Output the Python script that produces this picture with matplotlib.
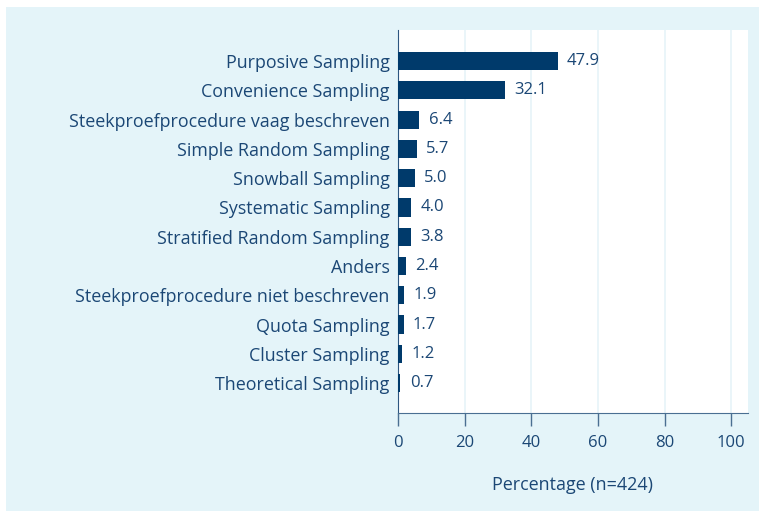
import matplotlib
matplotlib.use("Agg")
import matplotlib.pyplot as plt
from matplotlib.patches import Rectangle

categories = [
    "Purposive Sampling",
    "Convenience Sampling",
    "Steekproefprocedure vaag beschreven",
    "Simple Random Sampling",
    "Snowball Sampling",
    "Systematic Sampling",
    "Stratified Random Sampling",
    "Anders",
    "Steekproefprocedure niet beschreven",
    "Quota Sampling",
    "Cluster Sampling",
    "Theoretical Sampling",
]
values = [47.9, 32.1, 6.4, 5.7, 5.0, 4.0, 3.8, 2.4, 1.9, 1.7, 1.2, 0.7]
value_labels = ["47.9", "32.1", "6.4", "5.7", "5.0", "4.0", "3.8", "2.4", "1.9", "1.7", "1.2", "0.7"]
xticks = [0, 20, 40, 60, 80, 100]
xlabel = "Percentage (n=424)"

plt.rcParams['font.family'] = ['Open Sans', 'DejaVu Sans']
text_color = "#1b4775"
bar_color = "#003a6b"
panel_color = "#e4f4f9"
grid_color = "#e6f3f8"

fig = plt.figure(figsize=(7.59, 5.12), dpi=100)
fig.patch.set_facecolor("white")
fig.patches.append(Rectangle((6/759, 1-511/512), 753/759, 504/512,
                             transform=fig.transFigure, facecolor=panel_color,
                             edgecolor="none", zorder=-10))

ax = fig.add_axes([398/759, 1-413/512, 350/759, 383/512])
ax.set_zorder(5)
ax.set_facecolor("white")
n = len(categories)
ypos = list(range(n))[::-1]
ax.barh(ypos, values, height=0.62, color=bar_color, zorder=3)
for y, v, lab in zip(ypos, values, value_labels):
    ax.text(v + 2.8, y, lab, va="center", ha="left", fontsize=12, color=text_color)

ax.set_xlim(0, 105)
ax.set_ylim(-1.02, n - 1 + 1.06)
ax.set_yticks(ypos)
ax.set_yticklabels(categories, fontsize=12.9, color=text_color)
ax.tick_params(axis="y", length=0, pad=6)
ax.set_xticks(xticks)
ax.set_xticklabels([str(t) for t in xticks], fontsize=12, color=text_color)
ax.tick_params(axis="x", length=9, width=1, color="#4a6f92", pad=7, direction="out")
ax.grid(axis="x", color=grid_color, linewidth=1.2, zorder=0)
for s in ["top", "right"]:
    ax.spines[s].set_visible(False)
ax.spines["left"].set_color("#2d5680")
ax.spines["bottom"].set_color("#4a6f92")
ax.set_xlabel(xlabel, fontsize=12.9, color=text_color, labelpad=18)

fig.savefig("out.png", dpi=100)
